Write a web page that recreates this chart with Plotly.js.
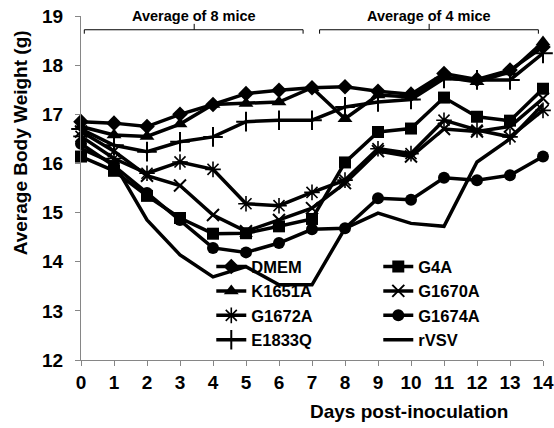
<!DOCTYPE html>
<html><head><meta charset="utf-8">
<script src="https://cdn.plot.ly/plotly-3.0.1.min.js"></script>
<style>html,body{margin:0;padding:0;background:#fff}#chart{width:554px;height:428px}</style>
</head><body><div id="chart"></div>
<script>
const days = [0,1,2,3,4,5,6,7,8,9,10,11,12,13,14];
const dmem   = [16.85,16.82,16.75,17.00,17.20,17.42,17.49,17.54,17.56,17.47,17.41,17.83,17.71,17.90,18.37];
const g4a    = [16.14,15.85,15.34,14.89,14.57,14.58,14.72,14.87,16.02,16.64,16.71,17.34,16.95,16.87,17.52];
const k1651a = [16.75,16.58,16.55,16.80,17.20,17.22,17.25,17.54,16.91,17.39,17.35,17.76,17.66,17.86,18.47];
const g1670a = [16.65,16.25,15.75,15.55,14.95,14.62,14.85,15.09,15.60,16.25,16.14,16.70,16.65,16.75,17.32];
const g1672a = [16.55,16.10,15.80,16.03,15.88,15.18,15.14,15.41,15.66,16.30,16.20,16.88,16.68,16.54,17.08];
const g1674a = [16.40,15.95,15.40,14.85,14.28,14.19,14.38,14.66,14.68,15.29,15.26,15.71,15.66,15.76,16.14];
const e1833q = [16.70,16.37,16.24,16.44,16.54,16.85,16.88,16.88,17.15,17.25,17.30,17.73,17.70,17.70,18.24];
const rvsv   = [16.30,16.00,14.85,14.14,13.69,13.90,13.53,13.53,14.68,14.99,14.78,14.72,16.03,16.50,17.20];
const seriesNames = ['DMEM','G4A','K1651A','G1670A','G1672A','G1674A','E1833Q','rVSV'];
const seriesValues = [dmem,g4a,k1651a,g1670a,g1672a,g1674a,e1833q,rvsv];
const yTicks = [12,13,14,15,16,17,18,19];
const bracketLabels = ['Average of 8 mice','Average of 4 mice'];
const bracketStart = [0.1, 7.23];
const bracketEnd = [6.73, 13.86];
const bracketMid = [3.43, 10.55];
const bracketLevel = 18.72;
const xTitle = 'Days post-inoculation';
const yTitle = 'Average Body Weight (g)';

const FONT = 'Liberation Sans, Arial, Helvetica, sans-serif';
const styles = [
  {symbol:'diamond', size:12},
  {symbol:'square', size:12},
  {symbol:'triangle-up', size:13},
  {symbol:'x-thin-open', size:12, lw:2},
  {symbol:'asterisk-open', size:13, lw:1.6},
  {symbol:'circle', size:12},
  {symbol:'cross-thin-open', size:14, lw:2},
  null
];

const traces = seriesNames.map((name,i)=>{
  const s = styles[i];
  const t = {
    x: days, y: seriesValues[i], name: name, type:'scatter',
    mode: s ? 'lines+markers' : 'lines',
    line: {color:'#000', width:3.5},
    cliponaxis: false
  };
  if (s) {
    t.marker = {symbol:s.symbol, size:s.size, color:'#000',
      line:{color:'#000', width: s.lw || 0}};
  }
  return t;
});

const shapes = [];
const annotations = [];
for (let i=0;i<bracketLabels.length;i++){
  const L = {color:'#000', width:1};
  shapes.push({type:'line', xref:'x', yref:'y', x0:bracketStart[i], x1:bracketEnd[i], y0:bracketLevel, y1:bracketLevel, line:L});
  shapes.push({type:'line', xref:'x', yref:'y', x0:bracketStart[i], x1:bracketStart[i], y0:bracketLevel, y1:bracketLevel-0.08, line:L});
  shapes.push({type:'line', xref:'x', yref:'y', x0:bracketEnd[i], x1:bracketEnd[i], y0:bracketLevel, y1:bracketLevel-0.08, line:L});
  shapes.push({type:'line', xref:'x', yref:'y', x0:bracketMid[i], x1:bracketMid[i], y0:bracketLevel, y1:bracketLevel+0.12, line:L});
  annotations.push({text:bracketLabels[i], xref:'x', yref:'y', x:bracketMid[i], y:19.0,
    showarrow:false, xanchor:'center', yanchor:'middle',
    font:{family:FONT, size:14.5, color:'#000', weight:'bold'}});
}
annotations.push({text:xTitle, xref:'paper', yref:'paper', x:0.71, y:-0.151, showarrow:false,
  xanchor:'center', yanchor:'middle', font:{family:FONT, size:19, color:'#000', weight:'bold'}});
annotations.push({text:yTitle, xref:'paper', yref:'paper', x:-0.132, y:0.63, showarrow:false, textangle:-90,
  xanchor:'center', yanchor:'middle', font:{family:FONT, size:19, color:'#000', weight:'bold'}});

const layout = {
  width:554, height:428,
  margin:{l:81, r:11, t:15.5, b:68, autoexpand:false},
  paper_bgcolor:'#fff', plot_bgcolor:'#fff',
  font:{family:FONT, color:'#000'},
  showlegend:true,
  legend:{orientation:'h', x:0.282, y:0.322, xanchor:'left', yanchor:'top',
    entrywidth:122, entrywidthmode:'pixels', bgcolor:'rgba(0,0,0,0)',
    font:{family:FONT, size:16.5, color:'#000', weight:'bold'}, traceorder:'normal'},
  xaxis:{range:[0,14], tickmode:'array', tickvals:days, ticktext:days.map(String),
    showgrid:false, zeroline:false, showline:true, linecolor:'#868686', linewidth:1,
    ticks:'outside', ticklen:5, tickcolor:'#868686', ticklabelstandoff:0,
    tickfont:{family:FONT, size:19, color:'#000', weight:'bold'}, fixedrange:true},
  yaxis:{range:[12,19], tickmode:'array', tickvals:yTicks, ticktext:yTicks.map(String),
    showgrid:false, zeroline:false, showline:true, linecolor:'#868686', linewidth:1,
    ticks:'outside', ticklen:5, tickcolor:'#868686', ticklabelstandoff:8,
    tickfont:{family:FONT, size:19, color:'#000', weight:'bold'}, fixedrange:true},
  shapes: shapes,
  annotations: annotations
};
Plotly.newPlot('chart', traces, layout, {staticPlot:true, displayModeBar:false});
</script></body></html>
